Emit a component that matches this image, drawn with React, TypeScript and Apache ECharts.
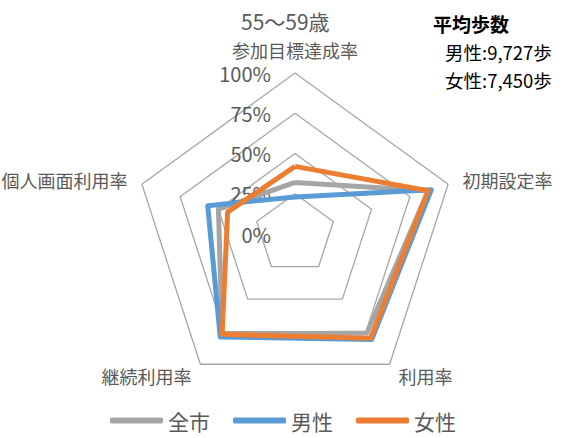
import React, { useEffect, useRef } from "react";
import * as echarts from "echarts";

// clockwise from top
const indicators = ["参加目標達成率", "初期設定率", "利用率", "継続利用率", "個人画面利用率"];
const seriesNames = ["全市", "男性", "女性"];
const allCity = [32, 87, 76, 77, 50];
const male = [23, 89, 81, 79, 57];
const female = [42, 87, 80, 77, 44];
const tickValues = [0, 25, 50, 75, 100];
const colors = ["#A5A5A5", "#5B9BD5", "#ED7D31"];
const titleText = "55〜59歳";
const noteLines = ["平均歩数", "男性:9,727歩", "女性:7,450歩"];

const FONT = "'Noto Sans CJK JP', 'Noto Sans', sans-serif";

// ECharts radar runs counter-clockwise; reorder so the chart reads clockwise
const ccw = <T,>(arr: T[]): T[] => [arr[0], ...arr.slice(1).reverse()];

export default function App() {
  const ref = useRef<HTMLDivElement>(null);
  useEffect(() => {
    document.body.style.margin = "0";
    if (!ref.current) return;
    const chart = echarts.init(ref.current, undefined, { renderer: "svg" });
    const values = [allCity, male, female];
    chart.setOption({
      animation: false,
      backgroundColor: "#ffffff",
      textStyle: { fontFamily: FONT },
      title: {
        text: titleText,
        left: 236,
        top: 5,
        textStyle: { fontSize: 21, fontWeight: "normal", color: "#595959", fontFamily: FONT },
      },
      legend: {
        data: seriesNames,
        top: 405,
        left: "center",
        icon: "roundRect",
        itemWidth: 53,
        itemHeight: 6,
        itemGap: 23,
        textStyle: { fontSize: 21, color: "#595959", fontFamily: FONT },
      },
      graphic: [
        { type: "text", left: 433, top: 14, style: { text: noteLines[0], fontSize: 19, fontWeight: "bold", fill: "#000", fontFamily: FONT } },
        { type: "text", left: 445, top: 43, style: { text: noteLines[1], fontSize: 18.5, fill: "#000", fontFamily: FONT } },
        { type: "text", left: 445, top: 71, style: { text: noteLines[2], fontSize: 18.5, fill: "#000", fontFamily: FONT } },
      ],
      polar: { center: [295, 234], radius: 161 },
      angleAxis: { show: false, startAngle: 90, min: 0, max: 360 },
      radiusAxis: {
        min: tickValues[0],
        max: tickValues[tickValues.length - 1],
        interval: 25,
        axisLine: { show: false },
        axisTick: { show: false },
        splitLine: { show: false },
        axisLabel: { formatter: "{value}%", fontSize: 20, lineHeight: 18, color: "#595959", margin: 24, fontFamily: FONT },
        z: 1,
      },
      radar: {
        center: [295, 234],
        radius: 161,
        startAngle: 90,
        shape: "polygon",
        splitNumber: 4,
        indicator: ccw(indicators).map((n) => ({ name: n, min: 0, max: 100 })),
        axisName: { color: "#595959", fontSize: 18, lineHeight: 16, fontFamily: FONT },
        nameGap: 15,
        axisLine: { show: false },
        axisTick: { show: false },
        axisLabel: { show: false },
        splitArea: { show: false },
        splitLine: { lineStyle: { color: "#A6A6A6", width: 1.3 } },
      },
      series: [
        {
          type: "radar",
          symbol: "none",
          z: 3,
          data: seriesNames.map((name, i) => ({
            name,
            value: ccw(values[i]),
            lineStyle: { color: colors[i], width: 5 },
            itemStyle: { color: colors[i] },
          })),
        },
      ],
    });
    return () => chart.dispose();
  }, []);
  return <div ref={ref} style={{ width: 566, height: 438 }} />;
}
